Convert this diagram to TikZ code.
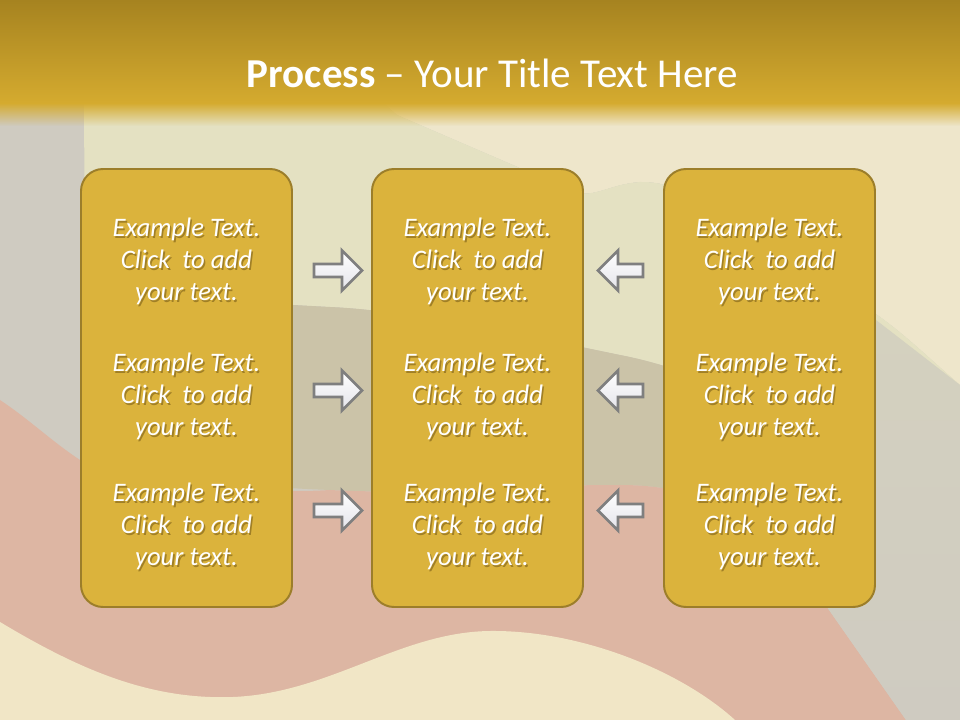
\documentclass[tikz,border=0pt]{standalone}
\usepackage{fontspec}
\setmainfont{Carlito}
\usetikzlibrary{fadings}
\definecolor{titletop}{HTML}{A68320}
\definecolor{titlebot}{HTML}{D5AB2F}
\definecolor{boxfill}{HTML}{DBB33C}
\definecolor{boxline}{HTML}{9C7E2A}
\definecolor{arrowline}{HTML}{7F7F7F}
\definecolor{arrowbot}{HTML}{E4E4EA}
\definecolor{bggray}{HTML}{CFCBC1}
\definecolor{bgcream}{HTML}{EEE6CB}
\definecolor{bgyel}{HTML}{E4E1C2}
\definecolor{bgolive}{HTML}{CBC3A8}
\definecolor{bgred}{HTML}{DDB6A3}
\definecolor{bgcream2}{HTML}{F1E6C6}
\definecolor{bgright}{HTML}{D4D1BF}
\definecolor{shadowc}{HTML}{A07F26}
\tikzset{
  panel/.style={draw=boxline, line width=1.4pt, fill=boxfill, rounded corners=0.55cm,
    minimum width={211*0.025cm}, minimum height={438*0.025cm}, inner sep=0pt},
  txt/.style={text=white, align=center, font=\fontsize{19}{22.8}\selectfont\itshape, inner sep=0pt},
  blockarrow/.style={draw=arrowline, line width=2pt, top color=white, bottom color=arrowbot, line join=miter},
  titletext/.style={text=white, font=\fontsize{29.2}{35}\selectfont, inner sep=0pt, anchor=base}
}
\newcommand\shl[1]{\rlap{\kern1.1pt\raisebox{-1.7pt}{\textcolor{shadowc}{#1}}}#1}
\newcommand\rightblock[2]{%
  \path[blockarrow] (#1,{#2-6.5}) -- ({#1+28},{#2-6.5}) -- ({#1+28},{#2-20}) -- ({#1+48},#2)
    -- ({#1+28},{#2+20}) -- ({#1+28},{#2+6.5}) -- (#1,{#2+6.5}) -- cycle;}
\newcommand\leftblock[2]{%
  \path[blockarrow] (#1,#2) -- ({#1+20},{#2-20}) -- ({#1+20},{#2-6.5}) -- ({#1+45},{#2-6.5})
    -- ({#1+45},{#2+6.5}) -- ({#1+20},{#2+6.5}) -- ({#1+20},{#2+20}) -- cycle;}
\newcommand\boxtext[3]{%
  \node[txt] (#1) at (#2,#3) {\shl{Example Text.}\\\shl{Click\ \ to add}\\\shl{your text.}};}
\begin{document}
\begin{tikzpicture}[x=0.025cm, y=-0.025cm]
\useasboundingbox (0,0) rectangle (960,720);
% background flag
\fill[bggray] (0,0) rectangle (960,720);
\fill[bgcream] (380,100) -- (960,100) -- (960,385) .. controls (920,350) and (900,330) .. (870,310)
  .. controls (780,250) and (700,180) .. (640,182) .. controls (610,184) and (595,198) .. (575,192)
  .. controls (550,185) and (530,172) .. (513,165) -- (397,115) -- cycle;
\fill[bgyel] (84,100) -- (380,100) -- (397,115) -- (513,165) .. controls (530,172) and (550,185) .. (575,192)
  .. controls (595,198) and (610,184) .. (640,182) .. controls (700,180) and (780,250) .. (870,310)
  .. controls (900,330) and (920,350) .. (960,385)
  -- (960,470) .. controls (800,420) and (700,370) .. (620,355) .. controls (500,330) and (400,310) .. (330,307)
  .. controls (200,300) and (120,295) .. (85,290) -- cycle;
\fill[bgolive] (85,290) .. controls (120,295) and (200,300) .. (330,307) .. controls (400,310) and (500,330) .. (620,355)
  .. controls (700,370) and (800,420) .. (960,470) -- (960,560) -- (780,540)
  .. controls (720,500) and (680,485) .. (620,485) .. controls (500,485) and (420,495) .. (330,490)
  .. controls (200,485) and (120,470) .. (84,462) -- cycle;
\fill[bgred] (0,400) .. controls (30,420) and (50,440) .. (80,460) .. controls (150,480) and (250,495) .. (330,490)
  .. controls (420,495) and (500,485) .. (620,485) .. controls (680,485) and (720,500) .. (780,540)
  -- (906,720) -- (0,720) -- cycle;
\shade[top color=bgright, bottom color=bggray] (876,320) -- (960,385) -- (960,720) -- (906,720) -- (780,540) -- (876,540) -- cycle;
\fill[bgcream2] (0,622) .. controls (80,670) and (150,700) .. (233,697) .. controls (330,693) and (400,632) .. (490,631)
  .. controls (580,630) and (680,670) .. (735,720) -- (0,720) -- cycle;
% title bar
\shade[top color=titletop, bottom color=titlebot] (0,0) rectangle (960,104);
\fill[titlebot, path fading=south] (0,103) rectangle (960,126);
\node[titletext] (title) at (492.5,88) {\textbf{Process} – Your Title Text Here};
% panels
\node[panel] (box1) at (186.5,388) {};
\node[panel] (box2) at (477.5,388) {};
\node[panel] (box3) at (769.5,388) {};
% texts
\boxtext{t11}{186.5}{262.5}
\boxtext{t12}{186.5}{397.5}
\boxtext{t13}{186.5}{527.5}
\boxtext{t21}{477.5}{262.5}
\boxtext{t22}{477.5}{397.5}
\boxtext{t23}{477.5}{527.5}
\boxtext{t31}{769.5}{262.5}
\boxtext{t32}{769.5}{397.5}
\boxtext{t33}{769.5}{527.5}
% arrows
\rightblock{314}{270.5}
\rightblock{314}{390.5}
\rightblock{314}{510.5}
\leftblock{598}{270.5}
\leftblock{598}{390.5}
\leftblock{598}{510.5}
\end{tikzpicture}
\end{document}
